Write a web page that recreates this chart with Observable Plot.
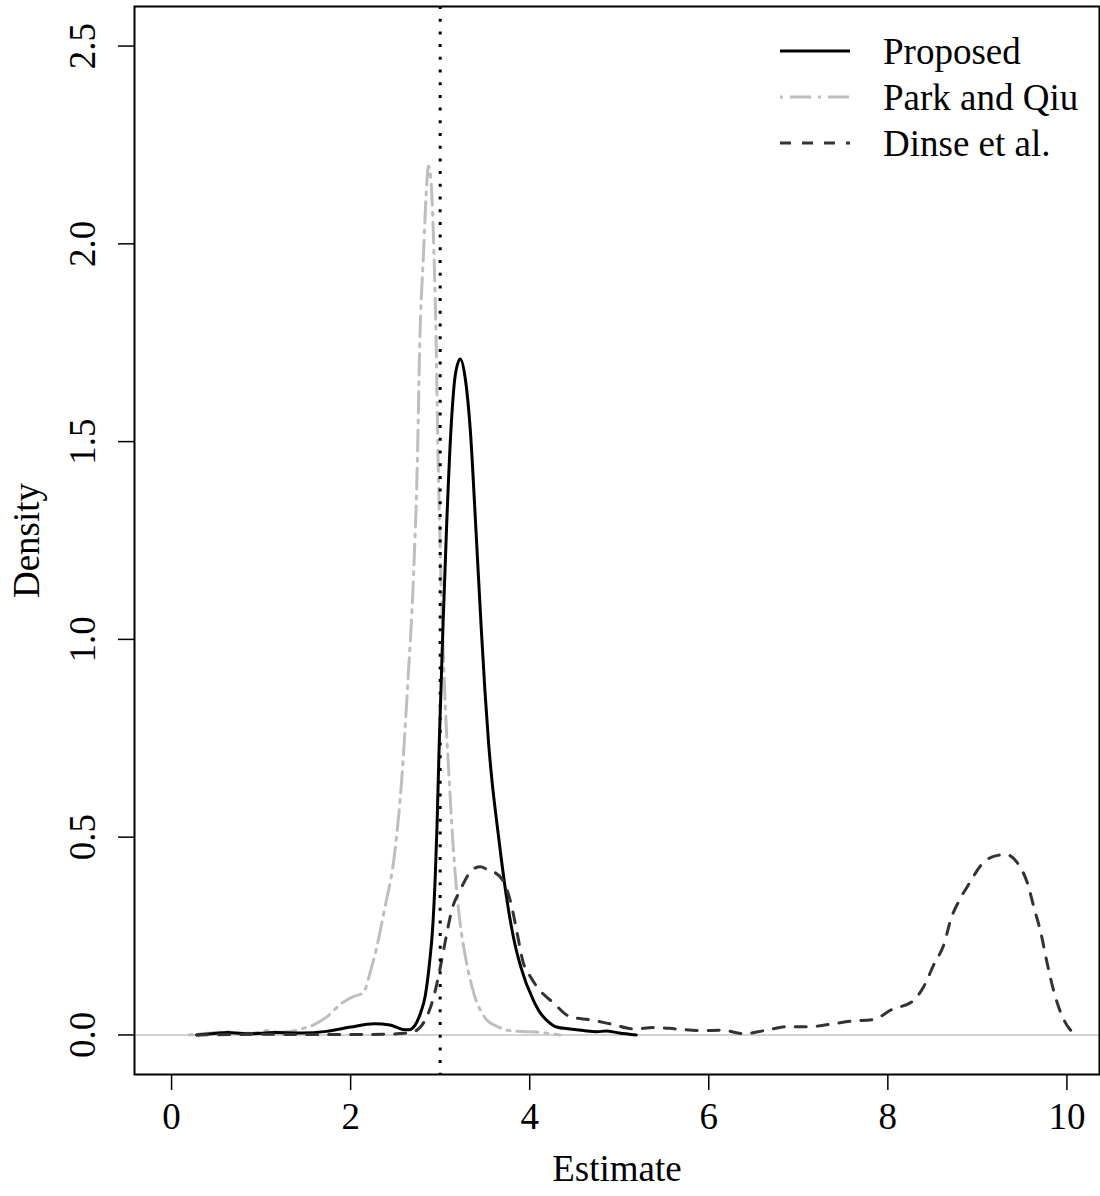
<!DOCTYPE html>
<html>
<head>
<meta charset="utf-8">
<script src="https://cdn.jsdelivr.net/npm/d3@7"></script>
<script src="https://cdn.jsdelivr.net/npm/@observablehq/plot@0.6"></script>
<style>
  body { margin: 0; background: white; }
  #wrap { position: relative; width: 1100px; height: 1196px; }
  #legend { position: absolute; left: 0; top: 0; pointer-events: none; }
</style>
</head>
<body>
<div id="wrap"></div>
<script>
// ---- data ----
const xTicks = [0, 2, 4, 6, 8, 10];
const yTicks = [0, 0.5, 1, 1.5, 2, 2.5];
const trueValue = [3];

const seriesNames = ["Proposed", "Park and Qiu", "Dinse et al."];
const seriesColors = ["#000000", "#bebebe", "#333333"];
const seriesDash = [null, "3,7,21,7", "11,11"];

const proposed = [
  [0.28,0],[0.45,0.003],[0.62,0.006],[0.88,0.003],[1.14,0.006],[1.44,0.005],[1.73,0.009],
  [2.0,0.02],[2.26,0.028],[2.44,0.025],[2.58,0.014],[2.65,0.013],[2.72,0.025],[2.78,0.055],
  [2.834,0.1],[2.88,0.18],[2.916,0.27],[2.945,0.4],[2.965,0.53],[2.99,0.74],[3.01,0.88],
  [3.03,1.023],[3.07,1.275],[3.12,1.528],[3.17,1.67],[3.225,1.709],[3.28,1.66],[3.337,1.528],
  [3.40,1.275],[3.46,1.023],[3.50,0.87],[3.54,0.74],[3.58,0.64],[3.62,0.56],[3.68,0.45],
  [3.74,0.35],[3.82,0.245],[3.90,0.172],
  [4.04,0.088],[4.12,0.055],[4.2,0.035],[4.3,0.02],[4.45,0.015],[4.6,0.011],[4.75,0.008],
  [4.85,0.01],[5.0,0.005],[5.19,0]
];
const parkQiu = [
  [0.2,0],[0.4,0.004],[0.62,0.008],[0.8,0.004],[0.9,0.004],[1.06,0.011],[1.2,0.007],[1.32,0.008],
  [1.44,0.015],[1.55,0.022],[1.73,0.045],[1.9,0.08],[2.03,0.097],[2.14,0.106],[2.22,0.16],
  [2.29,0.22],[2.37,0.308],[2.5,0.475],[2.57,0.644],[2.64,0.896],[2.70,1.149],[2.748,1.477],
  [2.77,1.73],[2.815,1.98],[2.85,2.15],[2.87,2.197],[2.9,2.15],[2.93,1.98],[2.957,1.73],
  [2.975,1.477],[2.995,1.275],[3.02,1.07],[3.045,0.9],[3.07,0.77],[3.1,0.65],[3.13,0.53],
  [3.16,0.43],[3.19,0.35],[3.23,0.27],[3.28,0.2],[3.33,0.145],[3.39,0.095],[3.45,0.062],
  [3.52,0.038],[3.65,0.02],[3.8,0.01],[4.04,0.008],[4.2,0.004],[4.34,0]
];
const dinse = [
  [0.28,0],[0.7,0.001],[1.0,0.002],[1.5,0.001],[2.0,0.001],[2.4,0.002],[2.6,0.004],[2.7,0.008],
  [2.78,0.02],[2.85,0.046],[2.92,0.09],[2.98,0.147],[3.06,0.24],[3.13,0.316],[3.225,0.366],
  [3.3,0.4],[3.37,0.42],[3.45,0.425],[3.53,0.418],[3.60,0.412],[3.71,0.387],[3.80,0.324],
  [3.86,0.257],[3.93,0.181],[4.0,0.15],[4.08,0.122],[4.27,0.08],[4.45,0.046],[4.68,0.038],
  [4.92,0.027],[5.17,0.015],[5.38,0.019],[5.64,0.015],[5.9,0.011],[6.15,0.012],[6.39,0.003],
  [6.62,0.011],[6.88,0.021],[7.12,0.021],[7.36,0.027],[7.6,0.035],[7.84,0.039],[8.05,0.065],
  [8.27,0.084],[8.40,0.122],[8.52,0.181],[8.63,0.231],[8.70,0.29],[8.80,0.341],[8.91,0.383],
  [9.04,0.429],[9.19,0.452],[9.32,0.456],[9.45,0.434],[9.56,0.383],[9.63,0.324],[9.71,0.257],
  [9.78,0.181],[9.86,0.105],[9.95,0.046],[10.03,0.015],[10.1,0.003]
];

const seriesData = [proposed, parkQiu, dinse];

const FONT = "'Liberation Serif', 'Times New Roman', Times, serif";

function lineMark(i) {
  return Plot.line(seriesData[i], {
    x: d => d[0], y: d => d[1],
    stroke: seriesColors[i], strokeWidth: 3,
    strokeDasharray: seriesDash[i] || undefined,
    curve: "monotone-x"
  });
}

const chart = Plot.plot({
  width: 1100, height: 1196,
  marginLeft: 134, marginRight: 1, marginTop: 6, marginBottom: 122,
  x: { domain: [-0.414, 10.364] },
  y: { domain: [-0.1, 2.6] },
  style: { fontFamily: FONT, fontSize: "37px", background: "white", color: "black" },
  marks: [
    Plot.ruleY([0], { stroke: "#d3d3d3", strokeWidth: 2 }),
    lineMark(1),
    lineMark(0),
    lineMark(2),
    Plot.ruleX(trueValue, { stroke: "black", strokeWidth: 3, strokeDasharray: "3,9.7" }),
    Plot.frame({ stroke: "black", strokeWidth: 2 }),
    Plot.axisX({ ticks: xTicks, tickSize: 16, tickFormat: () => "", label: null, strokeWidth: 1.5 }),
    Plot.axisY({ ticks: yTicks, tickSize: 16, tickFormat: () => "", label: null, strokeWidth: 1.5 }),
    Plot.text(xTicks, { x: d => d, frameAnchor: "bottom", textAnchor: "middle", lineAnchor: "middle", dy: 43, text: d => String(d) }),
    Plot.text(yTicks, { y: d => d, frameAnchor: "left", textAnchor: "middle", lineAnchor: "middle", dx: -51, rotate: -90, text: d => d.toFixed(1) }),
    Plot.text(["Estimate"], { frameAnchor: "bottom", textAnchor: "middle", lineAnchor: "middle", dy: 95, text: d => d }),
    Plot.text(["Density"], { frameAnchor: "left", textAnchor: "middle", lineAnchor: "middle", dx: -107, rotate: -90, text: d => d })
  ]
});

const wrap = document.getElementById("wrap");
wrap.appendChild(chart);

// legend (inside the plot area, top right, as in the reference)
const legend = d3.select(wrap).append("svg")
  .attr("id", "legend").attr("width", 1100).attr("height", 200)
  .style("font-family", FONT).style("font-size", "37px");
const rowY = [51, 97, 143];
seriesNames.forEach((name, i) => {
  legend.append("line")
    .attr("x1", 780).attr("x2", 850).attr("y1", rowY[i]).attr("y2", rowY[i])
    .attr("stroke", seriesColors[i]).attr("stroke-width", 3)
    .attr("stroke-dasharray", seriesDash[i]);
  legend.append("text")
    .attr("x", 883).attr("y", rowY[i] + 12.5)
    .attr("fill", "black").text(name);
});
</script>
</body>
</html>
